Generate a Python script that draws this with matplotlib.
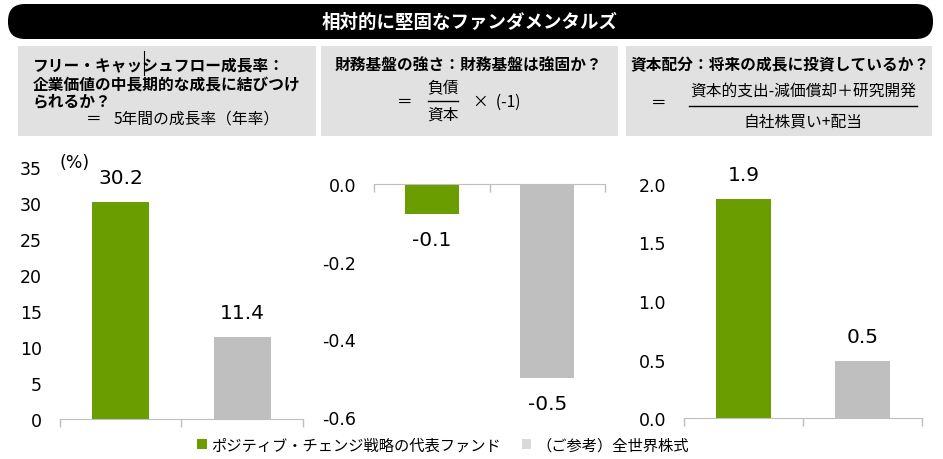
import matplotlib
matplotlib.use("Agg")
import matplotlib.pyplot as plt
from matplotlib.patches import FancyBboxPatch, Rectangle, Patch

plt.rcParams['font.family'] = ['Noto Sans CJK JP', 'DejaVu Sans']

W, H = 943, 460
GREEN = '#6a9e00'
GRAY = '#bfbfbf'
BOX = '#e1e1e1'

series = ['ポジティブ・チェンジ戦略の代表ファンド', '（ご参考）全世界株式']
fcf_growth = [30.2, 11.4]
debt_equity = [-0.077, -0.50]
capital_alloc = [1.87, 0.49]

title = '相対的に堅固なファンダメンタルズ'

fig = plt.figure(figsize=(W / 100, H / 100), dpi=100)

# overlay in pixel units for header, boxes and formulas
ov = fig.add_axes([0, 0, 1, 1])
ov.set_xlim(0, W)
ov.set_ylim(H, 0)
ov.axis('off')

ov.add_patch(FancyBboxPatch((8, 5), 925, 35, boxstyle='round,pad=0,rounding_size=17',
                            fc='black', ec='none'))
ov.text(470, 22, title, color='white', fontsize=13.3, fontweight='bold', ha='center', va='center')

for x0, x1 in [(18, 316), (321, 618), (626, 932)]:
    ov.add_patch(Rectangle((x0, 47), x1 - x0, 90, fc=BOX, ec='none'))

FS = 11.3
# box 1
ov.text(33, 65, 'フリー・キャッシュフロー成長率：', fontsize=FS, fontweight='bold', va='center')
ov.text(33, 84, '企業価値の中長期的な成長に結びつけ', fontsize=FS, fontweight='bold', va='center')
ov.text(33, 101, 'られるか？', fontsize=FS, fontweight='bold', va='center')
ov.text(86, 119, '＝', fontsize=FS, va='center')
ov.text(114, 119, '5年間の成長率（年率）', fontsize=FS, va='center')
ov.plot([144, 144], [52, 76], color='black', lw=0.8)

# box 2
ov.text(469, 65, '財務基盤の強さ：財務基盤は強固か？', fontsize=FS, fontweight='bold', ha='center', va='center')
ov.text(405, 102, '＝', fontsize=FS, ha='center', va='center')
ov.text(443, 89, '負債', fontsize=FS, ha='center', va='center')
ov.plot([428, 458], [102, 102], color='black', lw=1)
ov.text(443, 115, '資本', fontsize=FS, ha='center', va='center')
ov.text(473, 102, '×  (-1)', fontsize=FS, ha='left', va='center')

# box 3
ov.text(780, 65, '資本配分：将来の成長に投資しているか？', fontsize=FS, fontweight='bold', ha='center', va='center')
ov.text(659, 103, '＝', fontsize=FS, ha='center', va='center')
ov.text(803, 92, '資本的支出-減価償却＋研究開発', fontsize=FS, ha='center', va='center')
ov.plot([689, 917], [107, 107], color='black', lw=1)
ov.text(803, 122, '自社株買い+配当', fontsize=FS, ha='center', va='center')


def panel(x0, x1, ytop, ybot, values, ylim, yticks, fmt):
    ax = fig.add_axes([x0 / W, (H - ybot) / H, (x1 - x0) / W, (ybot - ytop) / H])
    ax.patch.set_alpha(0)
    ax.bar([0, 1], values, width=0.47, color=[GREEN, GRAY], zorder=2)
    ax.set_xlim(-0.5, 1.5)
    ax.set_ylim(*ylim)
    ax.set_yticks(yticks)
    ax.set_yticklabels([fmt.format(t) for t in yticks], fontsize=12.5, family='DejaVu Sans')
    ax.tick_params(axis='y', length=0, pad=13)
    ax.set_xticks([-0.5, 0.5, 1.5])
    ax.set_xticklabels([])
    ax.tick_params(axis='x', length=6, color='#bfbfbf', width=1)
    for s in ['left', 'right', 'top']:
        ax.spines[s].set_visible(False)
    ax.spines['bottom'].set_color('#bfbfbf')
    ax.spines['bottom'].set_position(('data', 0))
    for i, v in enumerate(values):
        off = 17.5 if v >= 0 else -18.5
        ax.annotate(f'{v:.1f}', (i, v), xytext=(0, off), textcoords='offset points',
                    ha='center', va='center', fontsize=14.5, family='DejaVu Sans')
    return ax


ax1 = panel(60, 303, 168, 420, fcf_growth, (0, 35), [0, 5, 10, 15, 20, 25, 30, 35], '{:.0f}')
ax1.text(0.0, 1.02, '(%)', transform=ax1.transAxes, fontsize=12.5, ha='left', va='center',
         family='DejaVu Sans')
ax2 = panel(374, 605, 185, 418, debt_equity, (-0.6, 0), [-0.6, -0.4, -0.2, 0.0], '{:.1f}')
ax3 = panel(684, 922, 185, 419, capital_alloc, (0, 2), [0.0, 0.5, 1.0, 1.5, 2.0], '{:.1f}')

handles = [Patch(fc=GREEN, ec='none'), Patch(fc='#d9d9d9', ec='none')]
fig.legend(handles, series, loc='center', bbox_to_anchor=(443 / W, (H - 446) / H), ncol=2,
           frameon=False, fontsize=11, handlelength=0.6, handleheight=0.6,
           handletextpad=0.3, columnspacing=1.4)

fig.savefig('out.png', dpi=100)
